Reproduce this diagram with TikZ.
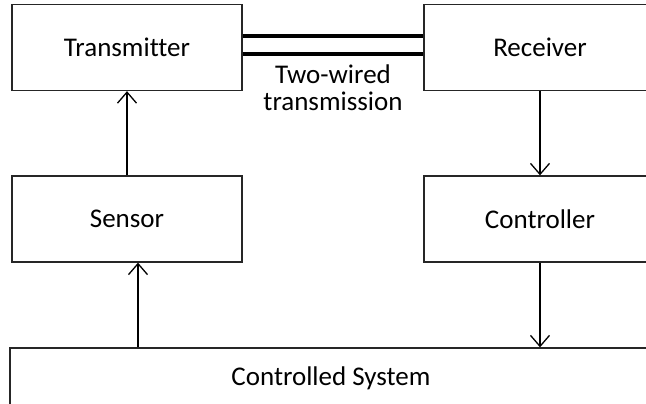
\documentclass[tikz,border=0pt]{standalone}
\usepackage{fontspec}
\setmainfont[Ligatures=NoCommon]{Carlito}
\usetikzlibrary{arrows.meta}
\begin{document}
\begin{tikzpicture}[x=1pt,y=-1pt,
  box/.style={draw=black!85,line width=1.3pt,fill=white,inner sep=0pt,
    minimum height=#1,font=\fontsize{27}{27}\selectfont},
  box/.default=86pt,
  arr/.style={line width=1.3pt,-{Straight Barb[length=11pt,width=19pt,line width=1.3pt]}},
  wire/.style={line width=3.2pt}]
\clip (0,0) rectangle (646,404);
\fill[white] (0,0) rectangle (646,404);
\node[box, minimum width=230pt] (trans) at (127,47.5) {Transmitter};
\node[box, minimum width=232pt] (rec) at (540,47.5) {Receiver};
\node[box, minimum width=230pt] (sensor) at (127,219) {Sensor};
\node[box, minimum width=232pt] (ctrl) at (540,219) {Controller};
\node[box=60pt, minimum width=642pt] (sys) at (331,378) {Controlled System};
\node[font=\fontsize{27}{27}\selectfont, align=center, inner sep=0pt] (lbl) at (333,88) {Two-wired\\transmission};
\coordinate (wa) at (0,36);
\coordinate (wb) at (0,54);
\coordinate (fb) at (138,0);
\draw[wire] (trans.east |- wa) -- (rec.west |- wa);
\draw[wire] (trans.east |- wb) -- (rec.west |- wb);
\draw[arr] (sensor.north) -- (trans.south);
\draw[arr] (rec.south) -- (ctrl.north);
\draw[arr] (ctrl.south) -- (sys.north -| ctrl.south);
\draw[arr] (sys.north -| fb) -- (sensor.south -| fb);
\end{tikzpicture}
\end{document}
